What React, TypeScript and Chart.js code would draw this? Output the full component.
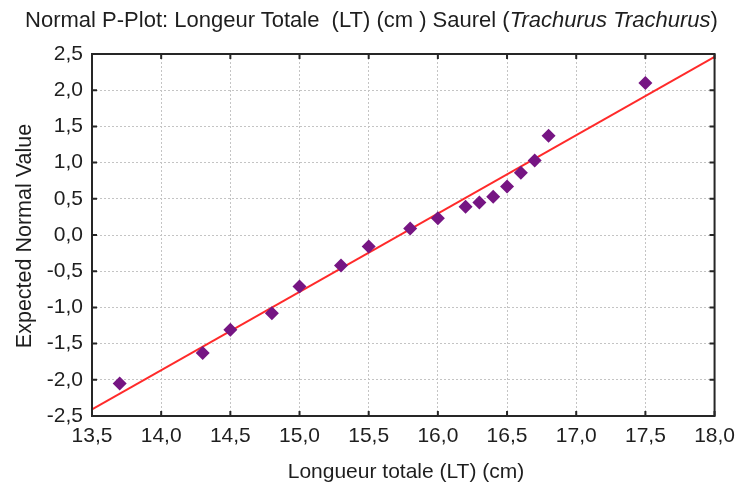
import React, { useEffect, useRef } from "react";
import { Chart, registerables } from "chart.js";

Chart.register(...registerables);

// Observed values (Longueur totale, cm) and expected normal values
const lengthCm = [13.7, 14.3, 14.5, 14.8, 15.0, 15.3, 15.5, 15.8, 16.0, 16.2, 16.3, 16.4, 16.5, 16.6, 16.7, 16.8, 17.5];
const expectedNormal = [-2.05, -1.63, -1.31, -1.08, -0.71, -0.42, -0.16, 0.09, 0.23, 0.39, 0.45, 0.53, 0.67, 0.86, 1.03, 1.37, 2.1];

// Reference (fitted) line end points
const lineX = [13.5, 18.0];
const lineY = [-2.41, 2.46];

// Axis ticks
const xTickValues = [13.5, 14.0, 14.5, 15.0, 15.5, 16.0, 16.5, 17.0, 17.5, 18.0];
const yTickValues = [-2.5, -2.0, -1.5, -1.0, -0.5, 0.0, 0.5, 1.0, 1.5, 2.0, 2.5];

const titleText = "Normal P-Plot: Longeur Totale  (LT) (cm ) Saurel (";
const titleItalic = "Trachurus Trachurus";
const xTitle = "Longueur totale (LT) (cm)";
const yTitle = "Expected Normal Value";

const FONT = "'Liberation Sans', Arial, sans-serif";
const fmt = (v: number) => v.toFixed(1).replace(".", ",");

const framePlugin = {
  id: "frame",
  afterDraw(chart: any) {
    const { ctx, chartArea } = chart;
    const xs = chart.scales.x;
    const ys = chart.scales.y;
    ctx.save();
    ctx.strokeStyle = "#262626";
    ctx.lineWidth = 2;
    ctx.strokeRect(chartArea.left, chartArea.top, chartArea.right - chartArea.left, chartArea.bottom - chartArea.top);
    const L = 5;
    ctx.beginPath();
    xs.ticks.forEach((t: any) => {
      const px = xs.getPixelForValue(t.value);
      ctx.moveTo(px, chartArea.bottom);
      ctx.lineTo(px, chartArea.bottom - L);
      ctx.moveTo(px, chartArea.top);
      ctx.lineTo(px, chartArea.top + L);
    });
    ys.ticks.forEach((t: any) => {
      const py = ys.getPixelForValue(t.value);
      ctx.moveTo(chartArea.left, py);
      ctx.lineTo(chartArea.left + L, py);
      ctx.moveTo(chartArea.right, py);
      ctx.lineTo(chartArea.right - L, py);
    });
    ctx.stroke();
    ctx.restore();
  },
};

export default function App() {
  const ref = useRef<HTMLCanvasElement>(null);

  useEffect(() => {
    if (!ref.current) return;
    const chart = new Chart(ref.current, {
      type: "scatter",
      data: {
        datasets: [
          {
            label: "points",
            data: lengthCm.map((x, i) => ({ x, y: expectedNormal[i] })),
            pointStyle: "rectRot",
            pointRadius: 7,
            pointHoverRadius: 7,
            backgroundColor: "#761583",
            borderColor: "#761583",
            borderWidth: 0,
            showLine: false,
          },
          {
            label: "line",
            data: lineX.map((x, i) => ({ x, y: lineY[i] })),
            showLine: true,
            borderColor: "#ff2a2a",
            borderWidth: 2,
            pointRadius: 0,
            pointHoverRadius: 0,
          },
        ],
      },
      options: {
        animation: false,
        responsive: false,
        devicePixelRatio: 1,
        events: [],
        layout: { padding: { left: 0, right: 22, top: 54, bottom: 0 } },
        plugins: { legend: { display: false }, title: { display: false }, tooltip: { enabled: false } },
        scales: {
          x: {
            type: "linear",
            min: 13.5,
            max: 18.0,
            afterBuildTicks: (s: any) => {
              s.ticks = xTickValues.map((v) => ({ value: v }));
            },
            afterFit: (s: any) => {
              s.height = 73;
            },
            ticks: {
              callback: (v: any) => fmt(Number(v)),
              color: "#1e1e1e",
              font: { family: FONT, size: 21 },
              padding: 8,
              maxRotation: 0,
              autoSkip: false,
            },
            grid: { color: "#c4c4c4", lineWidth: 1, drawTicks: false },
            border: { display: false, dash: [2, 2] },
          },
          y: {
            type: "linear",
            min: -2.5,
            max: 2.5,
            afterBuildTicks: (s: any) => {
              s.ticks = yTickValues.map((v) => ({ value: v }));
            },
            afterFit: (s: any) => {
              s.width = 92;
            },
            ticks: {
              callback: (v: any) => fmt(Number(v)),
              color: "#1e1e1e",
              font: { family: FONT, size: 21 },
              padding: 9,
              autoSkip: false,
            },
            grid: { color: "#c4c4c4", lineWidth: 1, drawTicks: false },
            border: { display: false, dash: [2, 2] },
          },
        },
      },
      plugins: [framePlugin],
    });
    return () => chart.destroy();
  }, []);

  return (
    <div style={{ position: "fixed", left: 0, top: 0, width: 743, height: 489, background: "#fff", fontFamily: FONT, color: "#1e1e1e" }}>
      <canvas ref={ref} width={743} height={489} style={{ position: "absolute", left: 0, top: 0, width: 743, height: 489 }} />
      <div style={{ position: "absolute", left: 0, top: 7, width: 743, textAlign: "center", fontSize: 22, whiteSpace: "pre", lineHeight: "26px" }}>
        {titleText}
        <i>{titleItalic}</i>
        {")"}
      </div>
      <div style={{ position: "absolute", left: 206, top: 458, width: 400, textAlign: "center", fontSize: 21, lineHeight: "25px", whiteSpace: "pre" }}>
        {xTitle}
      </div>
      <div style={{ position: "absolute", left: 24 - 150, top: 236 - 12, width: 300, textAlign: "center", fontSize: 21.5, lineHeight: "24px", whiteSpace: "pre", transform: "rotate(-90deg)", transformOrigin: "150px 12px" }}>
        {yTitle}
      </div>
    </div>
  );
}
